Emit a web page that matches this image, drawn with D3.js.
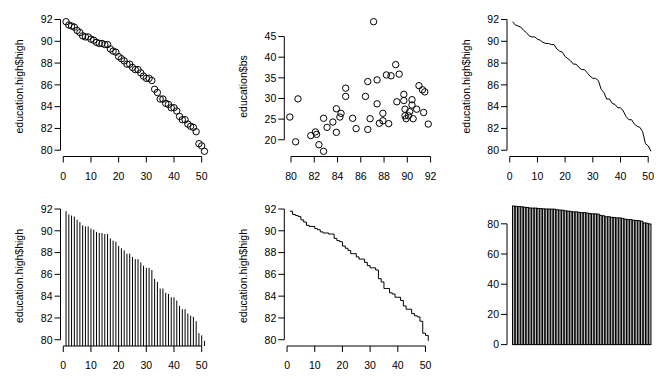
<!DOCTYPE html>
<html><head><meta charset="utf-8">
<script src="https://cdn.jsdelivr.net/npm/d3@7"></script>
<style>body{margin:0;background:#fff}svg{display:block}text{font-family:"Liberation Sans",Arial,Helvetica,sans-serif;fill:#000}</style>
</head><body>
<script>
// education.high$high, sorted decreasing (as plotted by index)
const high = [91.8,91.5,91.4,91.3,91.0,90.8,90.5,90.4,90.4,90.2,90.1,89.9,89.8,89.8,89.7,89.7,89.3,89.1,89.0,88.6,88.4,88.2,87.9,87.9,87.6,87.4,87.4,87.1,86.8,86.6,86.6,86.4,85.6,85.3,84.7,84.7,84.3,84.2,83.9,83.9,83.6,83.1,82.8,82.8,82.4,82.2,82.1,81.7,80.6,80.4,79.9];
// education$bs, paired with the high values above (scatter plot)
const bs = [23.8,31.6,26.6,32.1,33.1,27.4,25.1,29.7,28.4,26.8,25.8,25.1,27.4,25.8,31.0,29.5,35.9,29.2,38.2,35.5,23.9,35.7,26.4,24.6,24.0,34.5,28.7,48.6,25.1,34.1,22.5,30.5,22.7,25.2,32.5,30.5,26.4,25.5,27.5,21.8,24.3,23.0,25.2,17.2,18.8,21.3,21.9,21.0,29.9,19.5,25.5];
const idx = high.map((d,i)=>i+1);
const indexTicks = [0,10,20,30,40,50];
const highTicks = [80,82,84,86,88,90,92];
const bsTicks = [20,25,30,35,40,45];
const barTicks = [0,20,40,60,80];
const yLabHigh = "education.high$high";
const yLabBs = "education$bs";

const W=665,H=379;
const svg=d3.select("body").append("svg").attr("width",W).attr("height",H);
svg.append("rect").attr("width",W).attr("height",H).attr("fill","#fff");

const colL=[60.5,284.3,507], PW=149.5;
const rowT=[16.5,206], rowB=[156.5,346];
const FS=10.5;

function ext(a){const [lo,hi]=d3.extent(a);const r=(hi-lo)*0.04;return [lo-r,hi+r];}

function axes(g,x,y,xt,yt,ylab,l,t,b,noX){
  if(!noX){
    g.append("line").attr("x1",x(xt[0])).attr("x2",x(xt[xt.length-1])).attr("y1",b).attr("y2",b).attr("stroke","#000");
    xt.forEach(v=>{
      g.append("line").attr("x1",x(v)).attr("x2",x(v)).attr("y1",b).attr("y2",b+6).attr("stroke","#000");
      g.append("text").attr("x",x(v)).attr("y",b+23).attr("text-anchor","middle").attr("font-size",FS).text(v);
    });
  }
  g.append("line").attr("x1",l).attr("x2",l).attr("y1",y(yt[0])).attr("y2",y(yt[yt.length-1])).attr("stroke","#000");
  yt.forEach(v=>{
    g.append("line").attr("x1",l).attr("x2",l-6).attr("y1",y(v)).attr("y2",y(v)).attr("stroke","#000");
    g.append("text").attr("x",l-8).attr("y",y(v)).attr("dy","0.36em").attr("text-anchor","end").attr("font-size",FS).text(v);
  });
  if(ylab){
    const cy=(t+b)/2, cx=l-41;
    g.append("text").attr("transform",`translate(${cx},${cy}) rotate(-90)`).attr("dy","0.35em").attr("text-anchor","middle").attr("font-size",FS).text(ylab);
  }
}

const data = idx.map((i,k)=>({i,h:high[k],b:bs[k]}));

function panel(c,r){return {l:colL[c],rgt:colL[c]+PW,t:rowT[r],b:rowB[r],g:svg.append("g")};}

// 1: points by index
{const p=panel(0,0);
 const x=d3.scaleLinear().domain(ext(idx)).range([p.l,p.rgt]);
 const y=d3.scaleLinear().domain(ext(high)).range([p.b,p.t]);
 p.g.selectAll("circle").data(data).join("circle").attr("cx",d=>x(d.i)).attr("cy",d=>y(d.h)).attr("r",3.2).attr("fill","none").attr("stroke","#000");
 axes(p.g,x,y,indexTicks,highTicks,yLabHigh,p.l,p.t,p.b);}

// 2: scatter
{const p=panel(1,0);
 const x=d3.scaleLinear().domain(ext(high)).range([p.l,p.rgt]);
 const y=d3.scaleLinear().domain(ext(bs)).range([p.b,p.t]);
 p.g.selectAll("circle").data(data).join("circle").attr("cx",d=>x(d.h)).attr("cy",d=>y(d.b)).attr("r",3.2).attr("fill","none").attr("stroke","#000");
 axes(p.g,x,y,highTicks,bsTicks,yLabBs,p.l,p.t,p.b);}

// 3: line
{const p=panel(2,0);
 const x=d3.scaleLinear().domain(ext(idx)).range([p.l,p.rgt]);
 const y=d3.scaleLinear().domain(ext(high)).range([p.b,p.t]);
 p.g.append("path").datum(data).attr("d",d3.line().x(d=>x(d.i)).y(d=>y(d.h))).attr("fill","none").attr("stroke","#000");
 axes(p.g,x,y,indexTicks,highTicks,yLabHigh,p.l,p.t,p.b);}

// 4: vertical lines (type h)
{const p=panel(0,1);
 const x=d3.scaleLinear().domain(ext(idx)).range([p.l,p.rgt]);
 const y=d3.scaleLinear().domain(ext(high)).range([p.b,p.t]);
 p.g.selectAll("line.h").data(data).join("line").attr("class","h").attr("x1",d=>x(d.i)).attr("x2",d=>x(d.i)).attr("y1",p.b).attr("y2",d=>y(d.h)).attr("stroke","#000");
 axes(p.g,x,y,indexTicks,highTicks,yLabHigh,p.l,p.t,p.b);}

// 5: step
{const p=panel(1,1);
 const x=d3.scaleLinear().domain(ext(idx)).range([p.l,p.rgt]);
 const y=d3.scaleLinear().domain(ext(high)).range([p.b,p.t]);
 p.g.append("path").datum(data).attr("d",d3.line().curve(d3.curveStepAfter).x(d=>x(d.i)).y(d=>y(d.h))).attr("fill","none").attr("stroke","#000");
 axes(p.g,x,y,indexTicks,highTicks,yLabHigh,p.l,p.t,p.b);}

// 6: barplot
{const p=panel(2,1);
 const n=high.length, sp=0.2;
 const xr=[sp, n*(1+sp)], r=(xr[1]-xr[0])*0.04;
 const x=d3.scaleLinear().domain([xr[0]-r,xr[1]+r]).range([p.l,p.rgt]);
 const mx=d3.max(high);
 const y=d3.scaleLinear().domain([-0.01*mx,mx]).range([p.b,p.t]);
 p.g.selectAll("rect").data(data).join("rect")
  .attr("x",(d,k)=>x(sp+k*(1+sp))).attr("width",(d,k)=>x(1)-x(0))
  .attr("y",d=>y(d.h)).attr("height",d=>y(0)-y(d.h))
  .attr("fill","#bebebe").attr("stroke","#000").attr("stroke-width",1);
 axes(p.g,x,y,[],barTicks,null,p.l,p.t,p.b,true);}
</script>
</body></html>
